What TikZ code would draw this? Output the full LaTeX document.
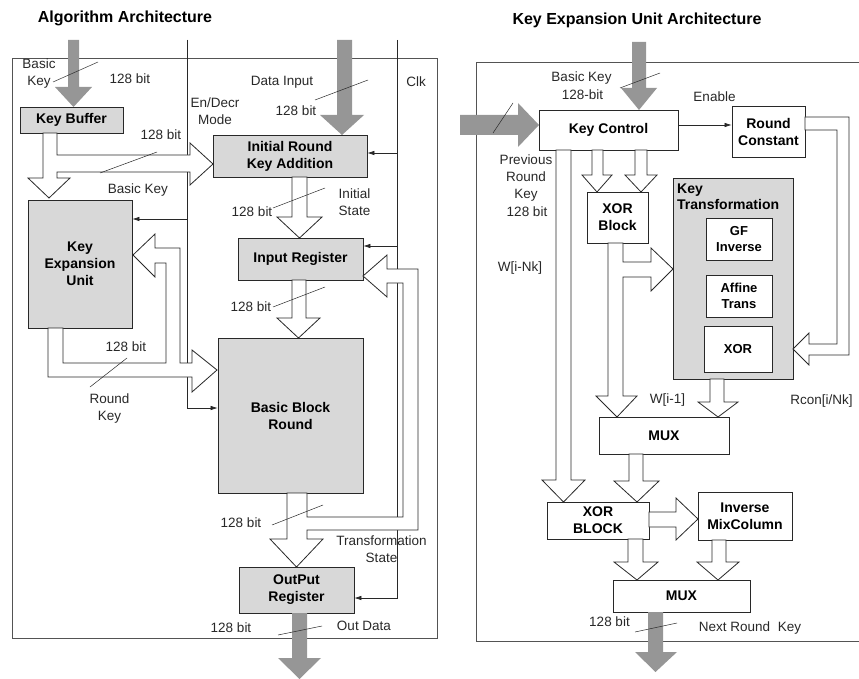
\documentclass[tikz,border=0pt]{standalone}
\usepackage{fontspec}
\setmainfont{Liberation Sans}
\usetikzlibrary{arrows.meta,calc}
\definecolor{boxgray}{RGB}{216,216,216}
\definecolor{arrgray}{RGB}{150,150,150}
\definecolor{ink}{RGB}{40,40,40}
\begin{document}
\begin{tikzpicture}[x=1pt,y=-1pt,
  box/.style={draw=ink, line width=0.8pt, fill=boxgray, inner sep=0pt, align=center, font=\bfseries\fontsize{14}{17}\selectfont, text=black},
  wbox/.style={box, fill=white},
  sbox/.style={box, fill=white, font=\bfseries\fontsize{13}{16}\selectfont},
  lbl/.style={inner sep=0pt, align=center, font=\fontsize{13.5}{17}\selectfont, text=ink},
  ttl/.style={inner sep=0pt, font=\bfseries\fontsize{16}{19}\selectfont, text=black},
  hollow/.style={draw=ink, fill=white, line width=0.8pt, line join=miter},
  fat/.style={fill=arrgray, draw=none},
  sig/.style={draw=ink, line width=0.6pt, -{Latex[length=7pt,width=4.5pt]}},
  wire/.style={draw=ink, line width=0.6pt},
  slash/.style={draw=ink, line width=0.5pt},
  frame/.style={draw=ink!80, line width=0.7pt}
]
\useasboundingbox (0,0) rectangle (859,679);

% ---------------- frames
\draw[frame] (12,58) rectangle (437,638);
\draw[frame] (860,62) -- (476,62) -- (476,641) -- (860,641);

% ---------------- titles
\node[ttl] (t1) at (125,18) {Algorithm Architecture};
\node[ttl] (t2) at (637,20) {Key Expansion Unit Architecture};

% ---------------- left boxes
\node[box, minimum width=103, minimum height=26] (kb) at (71.5,120) {Key Buffer};
\node[box, minimum width=154, minimum height=42] (irka) at (290,156) {Initial Round\\Key Addition};
\node[box, minimum width=104, minimum height=128] (keu) at (80,264) {Key\\Expansion\\Unit};
\node[box, minimum width=125, minimum height=42] (ir) at (300.5,259) {Input Register};
\node[box, minimum width=145, minimum height=155] (bbr) at (290.5,415.5) {Basic Block\\Round};
\node[box, minimum width=115, minimum height=46] (orr) at (296.5,590) {OutPut\\Register};

% ---------------- left control wires
\coordinate (modeT) at (187,40);
\coordinate (clkT) at (397,40);
\draw[wire] (modeT) -- (187,408);
\draw[sig] ([yshift=45pt]keu.east -| modeT) -- ([yshift=45pt]keu.east);
\draw[sig] (modeT) |- ([yshift=7.5pt]bbr.west);
\draw[sig] ([yshift=3pt]irka.east -| clkT) -- ([yshift=3pt]irka.east);
\draw[sig] ([yshift=13pt]ir.east -| clkT) -- ([yshift=13pt]ir.east);
\draw[sig] (clkT) |- ([yshift=-8pt]orr.east);

% ---------------- left fat arrows
\path[fat] (68,40) -- (68,87) -- (55,87) -- (73.5,107) -- (92,87) -- (79,87) -- (79,40) -- cycle;
\path[fat] (337,40) -- (337,115) -- (320,115) -- (342,135) -- (364,115) -- (352,115) -- (352,40) -- cycle;
\path[fat] (292,613) -- (292,658) -- (278,658) -- (299.5,679) -- (321,658) -- (307,658) -- (307,613) -- cycle;

% ---------------- left hollow arrows
\draw[hollow] (43,133) -- (43,178) -- (28,178) -- (49,198) -- (70,178) -- (57,178) -- (57,172)
  -- (190,172) -- (190,185) -- (213,164) -- (190,143) -- (190,155) -- (57,155) -- (57,133) -- cycle;
\draw[hollow] (292,177) -- (292,217) -- (277,217) -- (299.5,238) -- (322,217) -- (307,217) -- (307,177) -- cycle;
\draw[hollow] (292,280) -- (292,318) -- (277,318) -- (298.5,338) -- (320,318) -- (306,318) -- (306,280) -- cycle;
\draw[hollow] (287,493) -- (287,539) -- (270,539) -- (296.5,567) -- (323,539) -- (307,539) -- (307,530)
  -- (418,530) -- (418,269) -- (387,269) -- (387,255) -- (363,276) -- (387,297) -- (387,283)
  -- (403,283) -- (403,517) -- (307,517) -- (307,493) -- cycle;
\draw[hollow] (48,328) -- (48,377) -- (192,377) -- (192,392) -- (217,370) -- (192,350) -- (192,363)
  -- (180,363) -- (180,248) -- (155,248) -- (155,234) -- (133,255) -- (155,277) -- (155,263)
  -- (166,263) -- (166,363) -- (63,363) -- (63,328) -- cycle;

% ---------------- left labels
\node[lbl] (lbk) at (39,73.5) {Basic\\Key};
\node[lbl] (l128a) at (130,79) {128 bit};
\node[lbl] (l128b) at (161,135) {128 bit};
\node[lbl] (lbk2) at (138,190) {Basic Key};
\node[lbl] (lmode) at (215,111.5) {En/Decr\\Mode};
\node[lbl] (ldi) at (282,82) {Data Input};
\node[lbl] (l128c) at (296,111) {128 bit};
\node[lbl] (lclk) at (416,82) {Clk};
\node[lbl] (l128d) at (252,212) {128 bit};
\node[lbl] (lis) at (354.5,202) {Initial\\State};
\node[lbl] (l128e) at (251,307) {128 bit};
\node[lbl] (l128f) at (126,347) {128 bit};
\node[lbl] (lrk) at (109.5,408.5) {Round\\Key};
\node[lbl] (l128g) at (241,523) {128 bit};
\node[lbl] (lts) at (381.5,549) {Transformation\\State};
\node[lbl] (l128h) at (231,628) {128 bit};
\node[lbl] (lod) at (364,626) {Out Data};

% ---------------- right boxes
\node[wbox, minimum width=139, minimum height=40] (kc) at (608.5,130) {Key Control};
\node[wbox, minimum width=73, minimum height=51] (rc) at (768.5,131.5) {Round\\Constant};
\node[wbox, minimum width=61, minimum height=51] (xb) at (617.5,217.5) {XOR\\Block};
\node[box, minimum width=120, minimum height=201] (kt) at (733,278.5) {};
\node[inner sep=0pt, anchor=north west, align=left, font=\bfseries\fontsize{14}{16}\selectfont] (ktl) at (677,184) {Key\\Transformation};
\node[sbox, minimum width=66, minimum height=42] (gf) at (739,239) {GF\\Inverse};
\node[sbox, minimum width=66, minimum height=42] (aff) at (739,296) {Affine\\Trans};
\node[sbox, minimum width=68, minimum height=46] (xr) at (738,349) {XOR};
\node[wbox, minimum width=130, minimum height=37] (mux1) at (664,435.5) {MUX};
\node[wbox, minimum width=102, minimum height=37] (xB) at (598,520.5) {XOR\\BLOCK};
\node[wbox, minimum width=94, minimum height=48] (imc) at (745,516) {Inverse\\MixColumn};
\node[wbox, minimum width=137, minimum height=32] (mux2) at (681.5,596) {MUX};

% ---------------- right wires
\draw[sig] ([yshift=5pt]kc.east) -- ([yshift=5pt]kc.east -| rc.west);

% ---------------- right fat arrows
\path[fat] (632,42) -- (632,88) -- (621,88) -- (639,110) -- (657,88) -- (646,88) -- (646,42) -- cycle;
\path[fat] (460,115) -- (518,115) -- (518,103) -- (539,125) -- (518,147) -- (518,135) -- (460,135) -- cycle;
\path[fat] (648,612) -- (648,652) -- (635,652) -- (655.5,672) -- (677,652) -- (663,652) -- (663,612) -- cycle;

% ---------------- right hollow arrows
\draw[hollow] (592,150) -- (592,175) -- (582,175) -- (597,192) -- (612,175) -- (603,175) -- (603,150) -- cycle;
\draw[hollow] (635,150) -- (635,175) -- (625,175) -- (641,192) -- (657,175) -- (647,175) -- (647,150) -- cycle;
\draw[hollow] (556,150) -- (556,480) -- (542,480) -- (563.5,502) -- (585,480) -- (571,480) -- (571,150) -- cycle;
\draw[hollow] (608,243) -- (608,396) -- (596,396) -- (617,417) -- (637,396) -- (623,396) -- (623,277)
  -- (651,277) -- (651,291) -- (673,269) -- (651,248) -- (651,262) -- (623,262) -- (623,243) -- cycle;
\draw[hollow] (710,379) -- (710,402) -- (698,402) -- (718,417) -- (738,402) -- (724,402) -- (724,379) -- cycle;
\draw[hollow] (805,117) -- (849,117) -- (849,355) -- (809,355) -- (809,365) -- (793,349) -- (809,333)
  -- (809,344) -- (837,344) -- (837,130) -- (805,130) -- cycle;
\draw[hollow] (629,454) -- (629,481) -- (614,481) -- (637,502) -- (659,481) -- (643,481) -- (643,454) -- cycle;
\draw[hollow] (649,512) -- (676,512) -- (676,498) -- (698,519) -- (676,540) -- (676,527) -- (649,527) -- cycle;
\draw[hollow] (628,539) -- (628,562) -- (614,562) -- (637,580) -- (658,562) -- (643,562) -- (643,539) -- cycle;
\draw[hollow] (712,540) -- (712,562) -- (697,562) -- (718,580) -- (739,562) -- (726,562) -- (726,540) -- cycle;

% ---------------- right labels
\node[lbl] (rbk) at (581.5,78) {Basic Key};
\node[lbl] (r128a) at (582.5,95) {128-bit};
\node[lbl] (ren) at (714.5,97) {Enable};
\node[lbl] (rprk) at (526,178.5) {Previous\\Round\\Key};
\node[lbl] (r128b) at (527,212) {128 bit};
\node[lbl] (rwnk) at (520,268) {W[i-Nk]};
\node[lbl] (rw1) at (667.5,400) {W[i-1]};
\node[lbl] (rrc) at (821.5,401) {Rcon[i/Nk]};
\node[lbl] (r128c) at (609.5,622) {128 bit};
\node[lbl] (rnrk) at (750,628) {Next Round\ \ Key};

% ---------------- bus-width slashes
\draw[slash] (53,82) -- (98,62);
\draw[slash] (100,173) -- (157,152);
\draw[slash] (315,100) -- (368,80);
\draw[slash] (273,208) -- (325,188);
\draw[slash] (273,307) -- (325,287);
\draw[slash] (90,387) -- (127,358);
\draw[slash] (272,525) -- (323,505);
\draw[slash] (278,635) -- (322,626);
\draw[slash] (620,88) -- (660,73);
\draw[slash] (493,133) -- (513,103);
\draw[slash] (635,632) -- (677,623);
\end{tikzpicture}
\end{document}
